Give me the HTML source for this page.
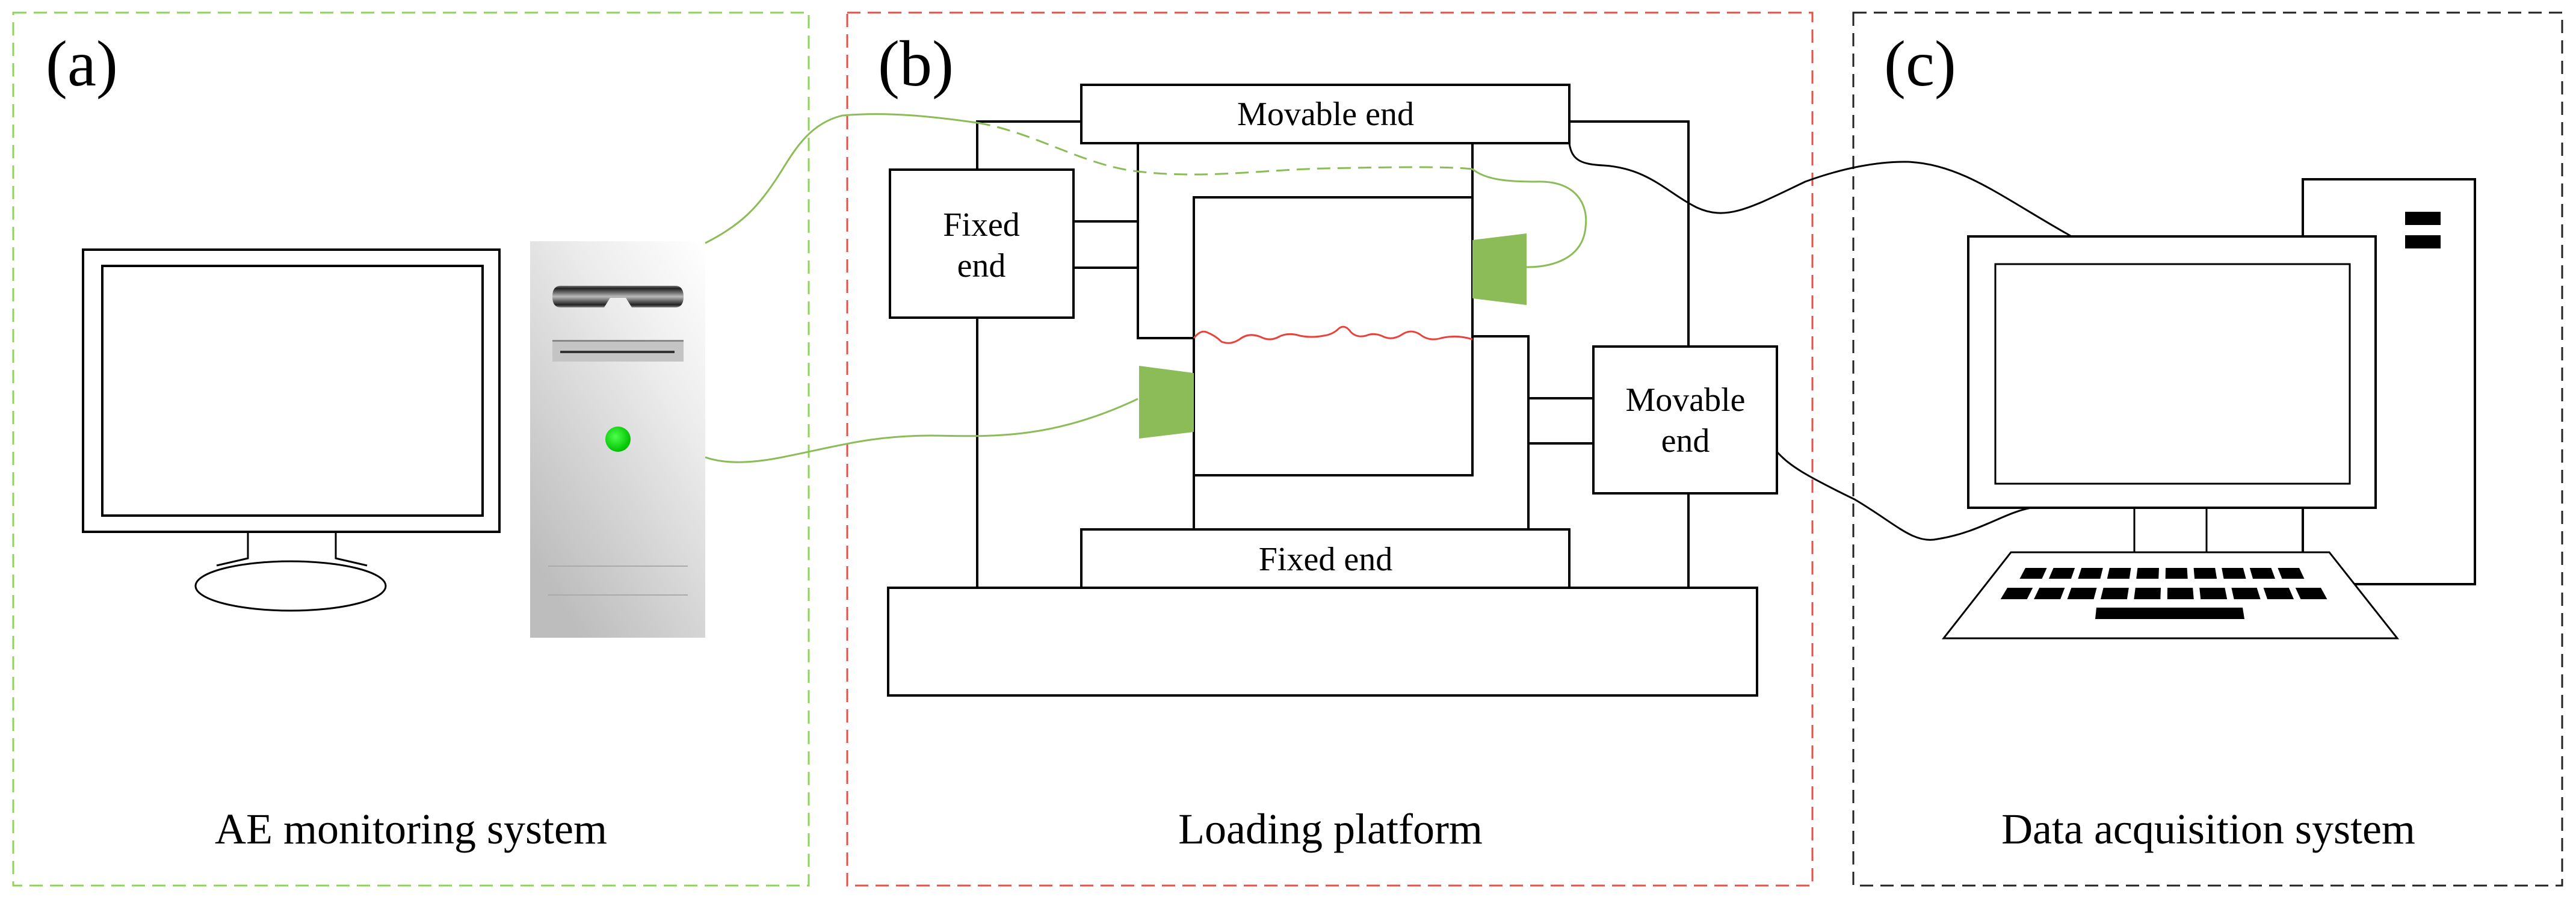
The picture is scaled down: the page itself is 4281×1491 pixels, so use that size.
<!DOCTYPE html>
<html><head><meta charset="utf-8"><style>
html,body{margin:0;padding:0;background:#fff;}
svg{display:block;}
svg text{font-family:"Liberation Serif","Times New Roman",serif;fill:#000;}
</style></head><body>
<svg id="s" width="4281" height="1491" viewBox="0 0 4281 1491" xmlns="http://www.w3.org/2000/svg">
<defs>
<linearGradient id="tw" x1="1" y1="0" x2="0.3" y2="1">
<stop offset="0" stop-color="#ffffff"/><stop offset="0.35" stop-color="#ececec"/><stop offset="1" stop-color="#bdbdbd"/>
</linearGradient>
<linearGradient id="bar" x1="0" y1="0" x2="0" y2="1">
<stop offset="0" stop-color="#777"/><stop offset="0.12" stop-color="#222"/><stop offset="0.3" stop-color="#666"/><stop offset="0.5" stop-color="#bbb"/><stop offset="0.7" stop-color="#666"/><stop offset="0.88" stop-color="#222"/><stop offset="1" stop-color="#888"/>
</linearGradient>
<radialGradient id="led" cx="0.4" cy="0.4" r="0.6"><stop offset="0" stop-color="#4dff4d"/><stop offset="1" stop-color="#00c000"/></radialGradient>
</defs>
<rect x="22" y="21" width="1322" height="1451" fill="none" stroke="#8fd45a" stroke-width="3" stroke-dasharray="22,12"/>
<rect x="1408" y="21" width="1604" height="1451" fill="none" stroke="#e0524a" stroke-width="3" stroke-dasharray="22,12"/>
<rect x="3080" y="21" width="1178" height="1451" fill="none" stroke="#222" stroke-width="3" stroke-dasharray="22,12"/>
<g font-family="Liberation Serif, Times New Roman, serif" fill="#000">
<text x="76" y="142" font-size="108" font-family="Liberation Serif, serif">(a)</text>
<text x="1459" y="142" font-size="108" font-family="Liberation Serif, serif">(b)</text>
<text x="3131" y="142" font-size="108" font-family="Liberation Serif, serif">(c)</text>
<text x="683" y="1402" font-size="72" text-anchor="middle" font-family="Liberation Serif, serif">AE monitoring system</text>
<text x="2211" y="1402" font-size="72" text-anchor="middle" font-family="Liberation Serif, serif">Loading platform</text>
<text x="3670" y="1402" font-size="72" text-anchor="middle" font-family="Liberation Serif, serif">Data acquisition system</text>
</g>

<g fill="none" stroke="#000" stroke-width="4">
<rect x="138" y="415" width="692" height="469" fill="#fff"/>
<rect x="170" y="442" width="632" height="415"/>
<path d="M412 884 V928 L360 940 M558 884 V928 L610 940" stroke-width="3"/>
<ellipse cx="483" cy="974" rx="158" ry="41" stroke-width="3"/>
</g>
<rect x="881" y="401" width="291" height="659" fill="url(#tw)"/>
<path d="M932 475 H1122 Q1136 475 1136 493 Q1136 511 1122 511 H1050 L1040 495 H1014 L1004 511 H932 Q918 511 918 493 Q918 475 932 475 Z" fill="url(#bar)"/>
<rect x="918" y="565" width="218" height="36" fill="#c4c4c4"/>
<rect x="918" y="565" width="218" height="3" fill="#888"/>
<rect x="931" y="583" width="190" height="4" fill="#333"/>
<circle cx="1027" cy="730" r="21" fill="url(#led)"/>
<path d="M911 941 H1143 M911 989 H1143" stroke="#aaa" stroke-width="2"/>

<g fill="none" stroke="#000" stroke-width="4">
<path d="M1624 528 V977 M1624 282 V202 H1797 M2608 202 H2806 V576 M2806 820 V977"/>
<rect x="1797" y="141" width="811" height="97" fill="#fff"/>
<rect x="1479" y="282" width="305" height="246" fill="#fff"/>
<path d="M1784 368 H1891 M1784 445 H1891"/>
<path d="M1891 238 V562 H1984 M2447 238 V328"/>
<rect x="1984" y="328" width="463" height="462"/>
<path d="M2447 559 H2540 V880 M1984 790 V880"/>
<rect x="2648" y="576" width="305" height="244" fill="#fff"/>
<path d="M2540 662 H2648 M2540 737 H2648"/>
<rect x="1797" y="880" width="811" height="97" fill="#fff"/>
<rect x="1476" y="977" width="1444" height="179" fill="#fff"/>
</g>
<g fill="#000">
<text x="2203" y="208" font-size="56" text-anchor="middle" font-family="Liberation Serif, serif">Movable end</text>
<text x="1631" y="392" font-size="56" text-anchor="middle" font-family="Liberation Serif, serif">Fixed</text>
<text x="1631" y="460" font-size="56" text-anchor="middle" font-family="Liberation Serif, serif">end</text>
<text x="2801" y="683" font-size="56" text-anchor="middle" font-family="Liberation Serif, serif">Movable</text>
<text x="2801" y="751" font-size="56" text-anchor="middle" font-family="Liberation Serif, serif">end</text>
<text x="2203" y="948" font-size="56" text-anchor="middle" font-family="Liberation Serif, serif">Fixed end</text>
</g>
<path d="M1984 562 Q1995 548 2005 552 Q2020 558 2030 568 Q2045 574 2060 564 Q2075 552 2095 560 Q2110 568 2125 560 Q2140 552 2160 558 Q2180 562 2200 558 Q2215 556 2225 546 Q2235 538 2245 552 Q2255 562 2270 558 Q2285 552 2300 560 Q2315 566 2330 556 Q2345 546 2360 556 Q2375 568 2395 562 Q2420 556 2447 564" fill="none" stroke="#e8423a" stroke-width="3"/>
<polygon points="2447,399 2537,388 2537,507 2447,496" fill="#8cbc58"/>
<polygon points="1893,608 1984,620 1984,718 1893,729" fill="#8cbc58"/>
<g fill="none" stroke="#8cbc58" stroke-width="3">
<path d="M1172 404 C1230 375 1260 345 1295 290 C1320 250 1345 205 1400 192 C1480 185 1560 195 1624 204"/>
<path d="M1624 204 C1720 220 1800 275 1891 285 C2000 298 2100 282 2200 280 C2300 278 2400 276 2447 281" stroke-dasharray="22,12"/>
<path d="M2447 281 C2470 300 2510 302 2553 302 C2620 300 2640 340 2635 378 C2630 430 2580 444 2537 444"/>
<path d="M1172 760 C1200 770 1240 772 1300 760 C1400 740 1450 724 1550 724 C1650 726 1750 730 1891 663"/>
</g>
<g fill="none" stroke="#000" stroke-width="3">
<path d="M2608 238 C2612 268 2630 273 2665 275 C2740 280 2770 320 2820 345 C2870 368 2910 345 3000 302 C3060 280 3120 268 3170 269 C3260 272 3330 330 3441 392"/>
<path d="M2953 751 C2975 775 3000 790 3082 830 C3150 870 3180 905 3220 896 C3290 885 3330 852 3376 844"/>
</g>

<g stroke="#000" stroke-width="4">
<rect x="3827" y="298" width="286" height="673" fill="#fff"/>
<rect x="3997" y="352" width="59" height="22" fill="#000" stroke="none"/>
<rect x="3997" y="391" width="59" height="22" fill="#000" stroke="none"/>
<rect x="3271" y="393" width="677" height="451" fill="#fff"/>
<rect x="3316" y="439" width="589" height="365" fill="#fff" stroke-width="3"/>
<path d="M3547 844 V918 M3667 844 V918 M3827 844 V918" fill="none" stroke-width="3"/>
<polygon points="3342,918 3871,918 3984,1061 3230,1061" fill="#fff" stroke-width="3"/>
</g>
<g id="keys" fill="#000"></g>
</svg>
<script>
(function(){
var g=document.getElementById('keys'),ns='http://www.w3.org/2000/svg',cx=3607;
function row(x0,x1,y0,y1,n,gap){
 var pitch=(x1-x0)/n,w=pitch-gap;
 for(var i=0;i<n;i++){
  var l=x0+i*pitch,r=l+w,k=0.0022*(y1-y0);
  var bl=l+(l-cx)*k,br=r+(r-cx)*k;
  var p=document.createElementNS(ns,'polygon');
  p.setAttribute('points',l+','+y0+' '+r+','+y0+' '+br+','+y1+' '+bl+','+y1);
  g.appendChild(p);
 }
}
row(3366,3832,944,962,10,11);
row(3336,3868,977,996,10,11);
var s=document.createElementNS(ns,'polygon');
s.setAttribute('points','3484,1010 3727,1010 3730,1029 3482,1029');g.appendChild(s);
})();
</script>
</body></html>
